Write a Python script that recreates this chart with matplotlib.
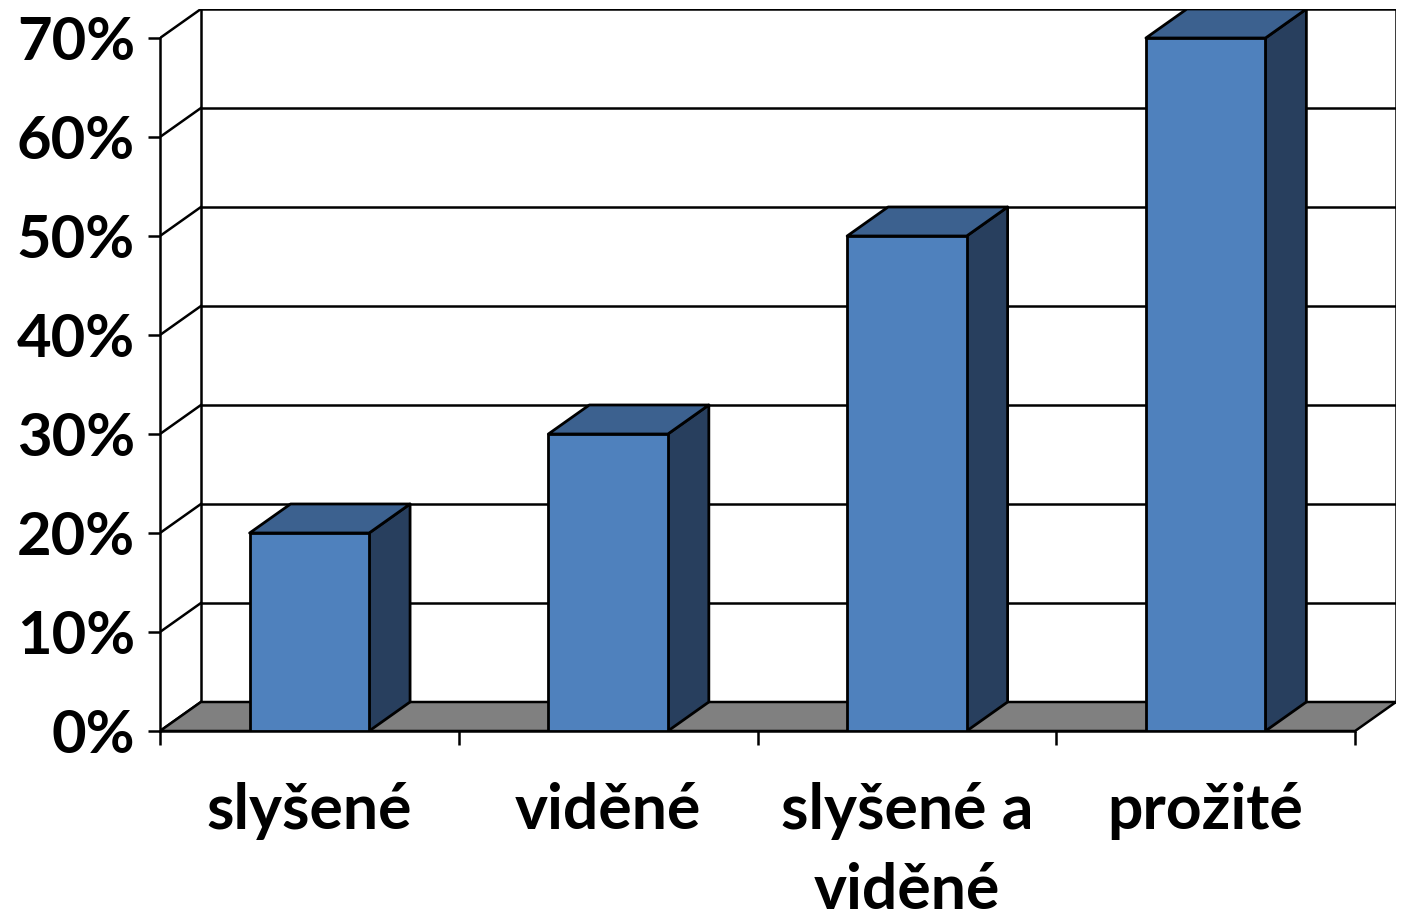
import matplotlib
matplotlib.use("Agg")
import matplotlib.pyplot as plt
from matplotlib.patches import Polygon

# data
categories = ["slyšené", "viděné", "slyšené a\nviděné", "prožité"]
values = [20, 30, 50, 70]
yticks = [0, 10, 20, 30, 40, 50, 60, 70]
ylabels = ["0%", "10%", "20%", "30%", "40%", "50%", "60%", "70%"]

# 3d look
dx = 0.137   # depth offset in category units
dy = 2.93    # depth offset in percent units
bar_w = 0.4
front = "#4F81BD"
top = "#3C618F"
side = "#283F5E"
floor = "#808080"
lw_grid = 1.8
lw_bar = 2.0

plt.rcParams["font.family"] = ["Lato", "DejaVu Sans"]
plt.rcParams["font.weight"] = "bold"

fig = plt.figure(figsize=(14.02, 9.23), dpi=100)
ax = fig.add_axes([160 / 1402, 192 / 923, 1236 / 1402, 722 / 923])
n = len(categories)
ymax = yticks[-1]
ax.set_xlim(0, n + dx)
ax.set_ylim(0, ymax + dy)

# back wall and side wall grid
for v in yticks:
    ax.plot([dx, n + dx], [v + dy, v + dy], color="black", lw=lw_grid, zorder=1)
    ax.plot([0, dx], [v, v + dy], color="black", lw=lw_grid, zorder=1)
ax.plot([dx, dx], [dy, ymax + dy], color="black", lw=lw_grid, zorder=1)
ax.plot([n + dx, n + dx], [dy, ymax + dy], color="black", lw=lw_grid, zorder=1)

# floor
ax.add_patch(Polygon([(0, 0), (n, 0), (n + dx, dy), (dx, dy)], closed=True,
                     facecolor=floor, edgecolor="black", lw=lw_grid, zorder=2))

# bars
for i, v in enumerate(values):
    x0 = i + 0.5 - bar_w / 2
    x1 = x0 + bar_w
    ax.add_patch(Polygon([(x1, 0), (x1 + dx, dy), (x1 + dx, v + dy), (x1, v)], closed=True,
                         facecolor=side, edgecolor="black", lw=lw_bar, joinstyle="round", zorder=3))
    ax.add_patch(Polygon([(x0, v), (x1, v), (x1 + dx, v + dy), (x0 + dx, v + dy)], closed=True,
                         facecolor=top, edgecolor="black", lw=lw_bar, joinstyle="round", zorder=3))
    ax.add_patch(Polygon([(x0, 0), (x1, 0), (x1, v), (x0, v)], closed=True,
                         facecolor=front, edgecolor="black", lw=lw_bar, joinstyle="round", zorder=4))

# axes
for s in ["top", "right"]:
    ax.spines[s].set_visible(False)
ax.spines["left"].set_bounds(0, ymax)
ax.spines["bottom"].set_bounds(0, n)
ax.spines["left"].set_linewidth(lw_grid)
ax.spines["bottom"].set_linewidth(lw_grid)
ax.spines["left"].set_zorder(2.5)
ax.spines["bottom"].set_zorder(2.5)

ax.set_yticks(yticks)
ax.set_yticklabels(ylabels, fontsize=43, fontweight="bold")
ax.tick_params(axis="y", direction="out", length=9, width=lw_grid, pad=9)

ax.set_xticks(range(n + 1))
ax.set_xticklabels([])
ax.set_xticks([i + 0.5 for i in range(n)], minor=True)
ax.set_xticklabels(categories, minor=True, fontsize=45, fontweight="bold", linespacing=1.45)
ax.tick_params(axis="x", which="major", direction="out", length=10, width=lw_grid)
ax.tick_params(axis="x", which="minor", length=0, pad=37)

fig.savefig("out.png", dpi=100)
